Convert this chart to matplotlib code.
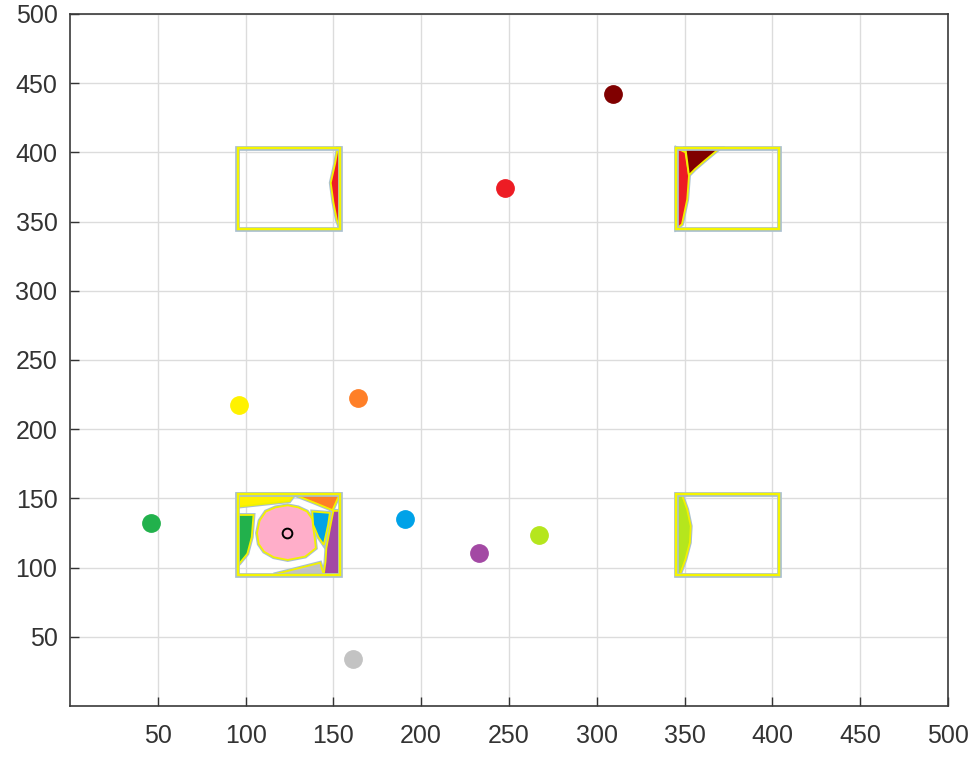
import numpy as np
import matplotlib
matplotlib.use("Agg")
import matplotlib.pyplot as plt
from matplotlib.patches import Polygon, Rectangle

plt.rcParams['font.family'] = ['Liberation Sans', 'DejaVu Sans']

# nodes (centres of the coloured dots)
node_x = [309, 248, 96, 164, 46, 191, 233, 267, 161]
node_y = [442.5, 374, 217.5, 222.5, 132, 135, 110.5, 123.5, 34]
node_colors = ['#800000', '#ED1C24', '#FFF200', '#FF7F27', '#22B14C',
               '#00A2E8', '#A349A4', '#B5E61D', '#C3C3C3']

# the node sitting inside the lower left room
inner_x = [123.5]
inner_y = [125]

# rooms (lower left corners, size)
room_x = [95, 95, 345, 345]
room_y = [94.5, 344.5, 94.5, 344.5]
room_w = 59
room_h = 59

# coloured cells
cell_yellow = [(95.5, 153), (128, 153), (125, 148), (110, 146), (95.5, 144)]
cell_orange = [(127, 153), (153.5, 153), (149.5, 141.5), (139, 147)]
cell_green = [(95.5, 138), (104.5, 138), (103.5, 122), (101, 110), (96.5, 103), (95.5, 102)]
cell_pink = [(124, 145), (130, 143.5), (135, 140.5), (138, 135), (138.5, 129), (139.5, 120),
             (140, 114), (134, 108), (124, 105.5), (116, 107.5), (110.5, 111.5),
             (107.5, 117), (106.5, 125), (108, 134), (111.5, 140.5), (117, 143.5)]
cell_blue = [(138, 140.5), (148, 139.5), (147, 131), (144.5, 116.5), (141.5, 122), (138.5, 131)]
cell_purple = [(150, 141), (153.5, 141), (153.5, 95), (144.5, 95), (145.5, 104), (146, 114),
               (148, 128)]
cell_grey = [(116, 95), (144.5, 95), (142.5, 103.5), (130, 99.5)]
cell_red_a = [(152.5, 403), (151, 392), (148.5, 378), (150, 364), (152, 351), (153.5, 346),
              (153.5, 403)]
cell_red_b = [(345.5, 403), (350.5, 400), (352.5, 383), (351.5, 366), (348.5, 348),
              (345.5, 345)]
cell_darkred = [(350.5, 403), (370, 403), (361, 393.5), (356, 388), (352.5, 383.5)]
cell_lime = [(345.5, 153), (348.5, 152.5), (351.5, 142), (353.5, 130), (353, 118),
             (350.5, 106), (347.5, 95.5), (345.5, 95)]

cells = [(cell_yellow, '#FFF200'), (cell_orange, '#FF7F27'), (cell_green, '#22B14C'),
         (cell_pink, '#FFAEC9'), (cell_blue, '#00A2E8'), (cell_purple, '#A349A4'),
         (cell_grey, '#C3C3C3'), (cell_red_a, '#ED1C24'), (cell_red_b, '#ED1C24'),
         (cell_darkred, '#800000'), (cell_lime, '#B5E61D')]

fig = plt.figure(figsize=(9.79, 7.58), dpi=100)
ax = fig.add_axes([0.0715, 0.0686, 0.8968, 0.913])

for pts, col in cells:
    ax.add_patch(Polygon(pts, closed=True, facecolor='none', edgecolor='#a9c0d0',
                         lw=2.8, zorder=2))
    ax.add_patch(Polygon(pts, closed=True, facecolor=col, edgecolor='#f2f200',
                         lw=1.3, zorder=3))

for x0, y0 in zip(room_x, room_y):
    ax.add_patch(Rectangle((x0, y0), room_w, room_h, facecolor='none',
                           edgecolor='#a9c0d0', lw=3.4, zorder=4))
    ax.add_patch(Rectangle((x0 + 0.4, y0 + 0.4), room_w - 0.8, room_h - 0.8,
                           facecolor='none', edgecolor='#f5f500', lw=1.7, zorder=5))

for x, y, c in zip(node_x, node_y, node_colors):
    ax.plot(x, y, 'o', color=c, markersize=12.5, zorder=6)
ax.plot(inner_x, inner_y, 'o', mfc='none', mec='black', mew=1.4, markersize=7, zorder=6)

ax.set_xlim(0, 500)
ax.set_ylim(0, 500)
ax.set_xticks(np.arange(50, 501, 50))
ax.set_yticks(np.arange(50, 501, 50))
ax.grid(True, color='#dcdcdc', lw=1)
ax.set_axisbelow(True)
ax.tick_params(direction='in', length=6.5, width=1, colors='#333333',
               labelsize=18, pad=9)
ax.tick_params(axis='x', pad=13)
for s in ax.spines.values():
    s.set_color('#3a3a3a')
    s.set_linewidth(1.2)

fig.savefig('out.png', dpi=100)
